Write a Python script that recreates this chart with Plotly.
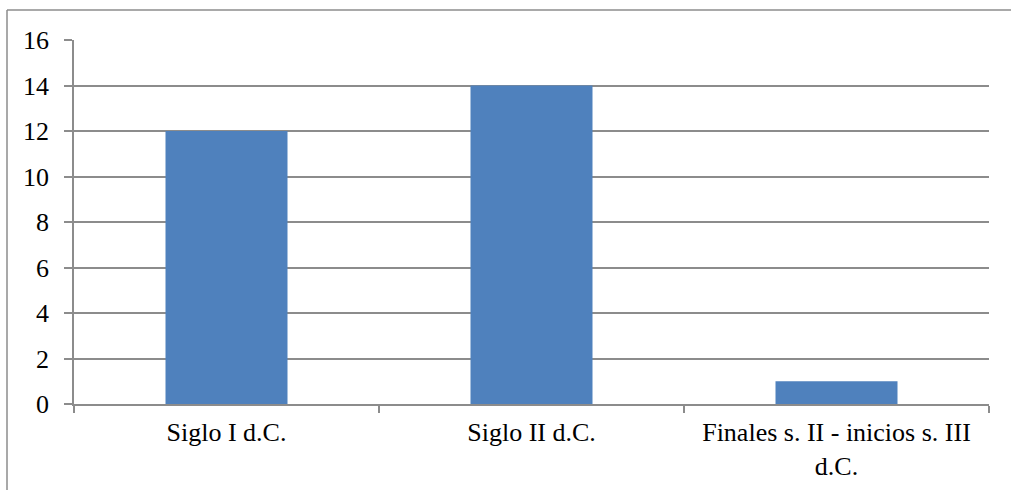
import plotly.graph_objects as go

# Number of items per period
periods = ["Siglo I d.C.", "Siglo II d.C.", "Finales s. II - inicios s. III<br>d.C."]
counts = [12, 14, 1]
y_ticks = [0, 2, 4, 6, 8, 10, 12, 14, 16]

W, H = 1011, 490
ML, MR, MT, MB = 74, 22, 40, 86
pw, ph = W - ML - MR, H - MT - MB

grid = "#8c8c8c"
font = dict(family="Liberation Serif, Times New Roman, serif", size=26, color="#000000")

fig = go.Figure(go.Bar(
    x=periods, y=counts, width=0.4,
    marker=dict(color="#4f81bd", line=dict(width=0)),
))

fig.update_layout(
    width=W, height=H,
    margin=dict(l=ML, r=MR, t=MT, b=MB),
    paper_bgcolor="white", plot_bgcolor="white",
    font=font, showlegend=False,
    bargap=0.6,
)
fig.update_xaxes(
    type="category", tickson="boundaries", ticks="outside", ticklen=7,
    tickcolor=grid, tickwidth=1.5,
    showline=True, linecolor=grid, linewidth=1.5,
    showgrid=False, tickfont=font, ticklabelstandoff=4, automargin=False,
)
fig.update_yaxes(
    range=[0, 16], tickvals=y_ticks, ticks="outside", ticklen=8,
    tickcolor=grid, tickwidth=1.5,
    showline=True, linecolor=grid, linewidth=1.5,
    showgrid=True, gridcolor=grid, gridwidth=1.5,
    zeroline=False, tickfont=font, ticklabelstandoff=10, automargin=False,
)

# Outer chart frame (left and top edges only; the rest runs off the page)
frame_x = (7 - ML) / pw
frame_y = 1 + (MT - 10) / ph
fig.add_shape(
    type="line", xref="paper", yref="paper",
    x0=frame_x, x1=frame_x, y0=-1, y1=frame_y,
    line=dict(color=grid, width=1.5), layer="below",
)
fig.add_shape(
    type="line", xref="paper", yref="paper",
    x0=frame_x, x1=2, y0=frame_y, y1=frame_y,
    line=dict(color=grid, width=1.5), layer="below",
)

fig.write_html("out.html")
